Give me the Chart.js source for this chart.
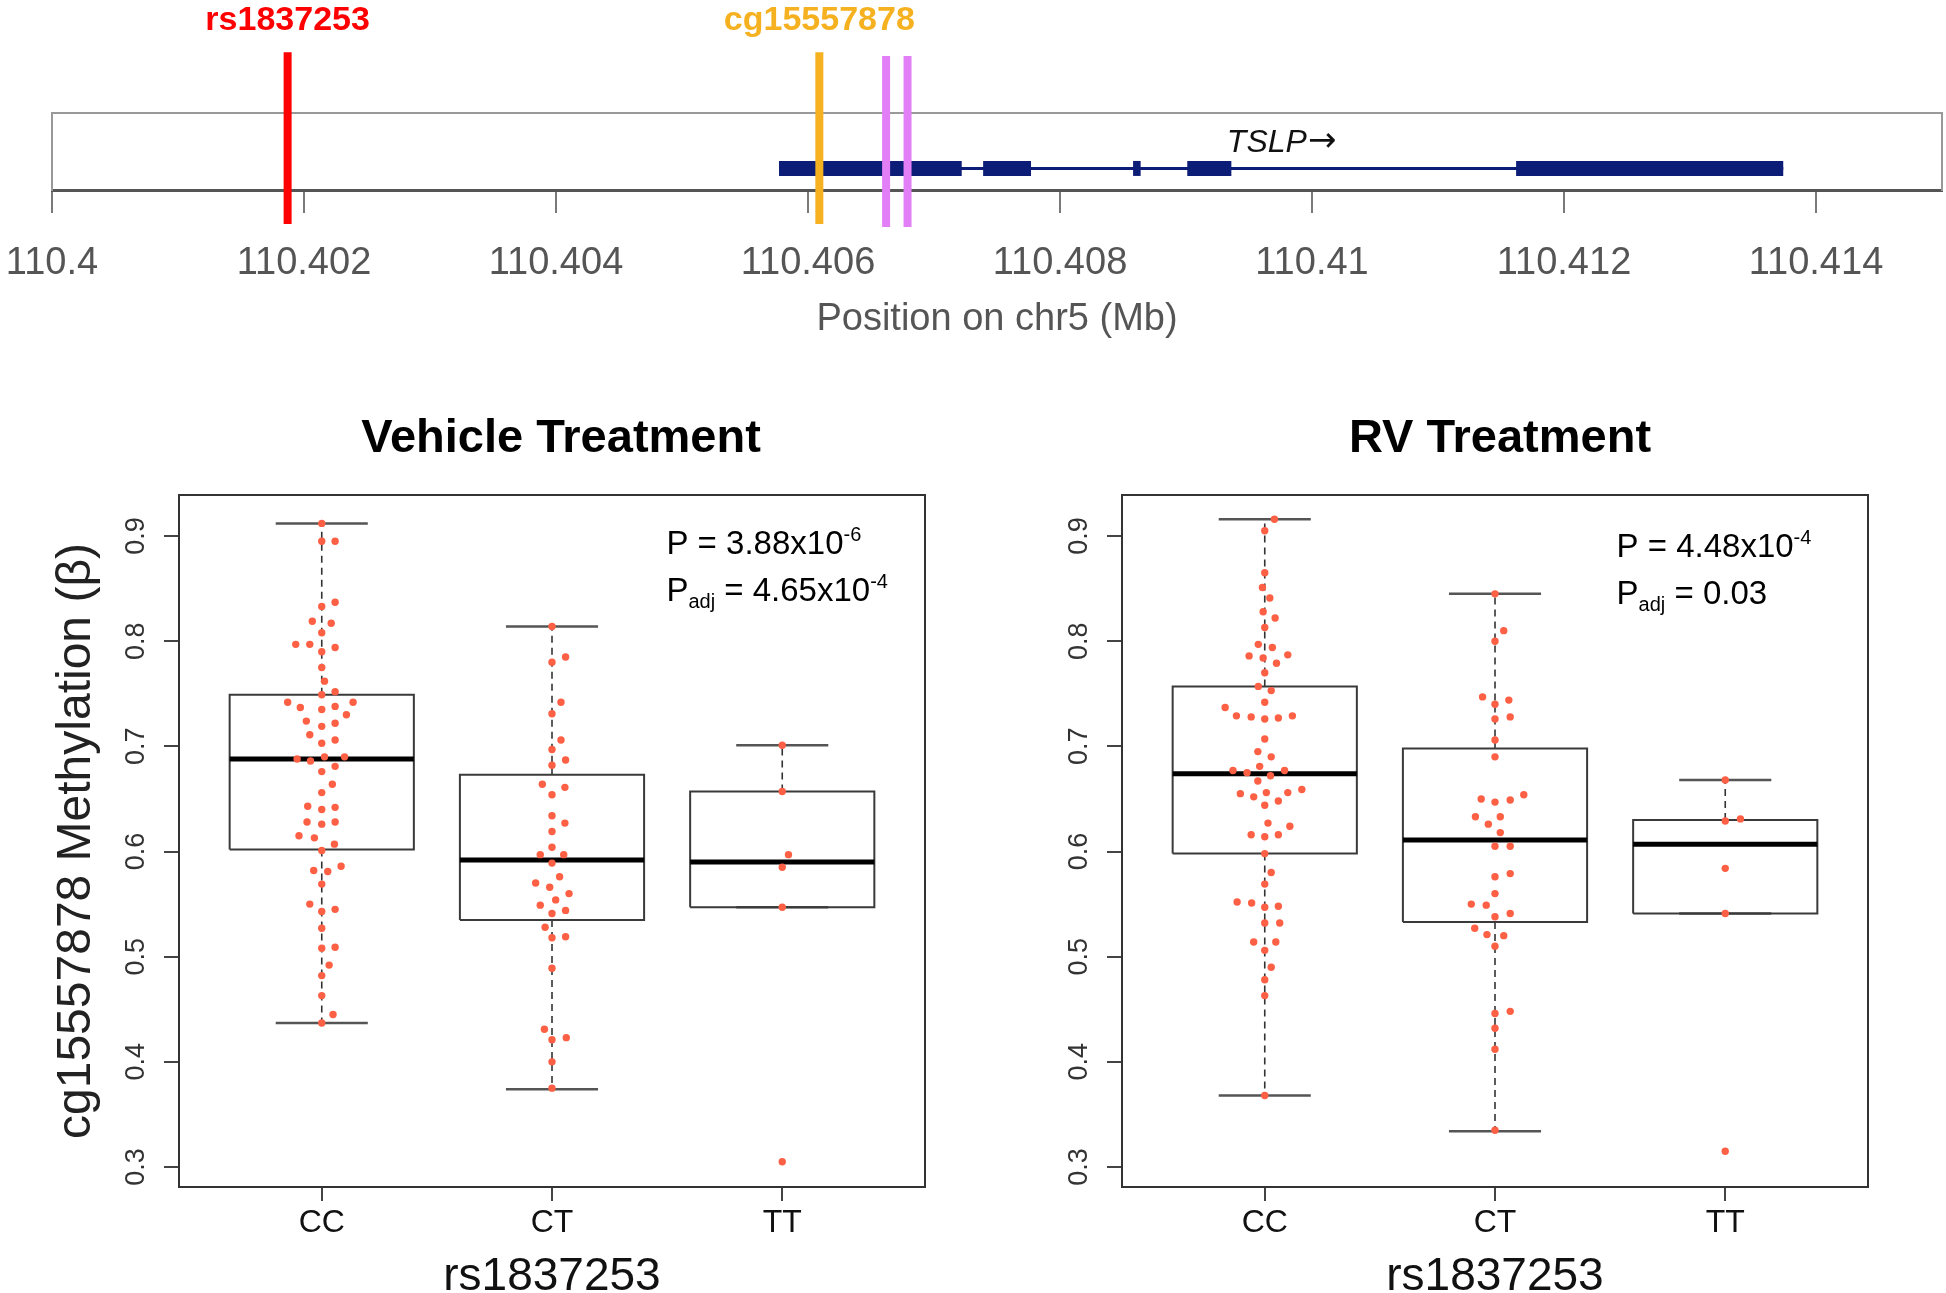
<!DOCTYPE html>
<html><head><meta charset="utf-8">
<script src="https://cdn.jsdelivr.net/npm/chart.js@4.4.1/dist/chart.umd.min.js"></script>
<style>
html,body{margin:0;padding:0;background:#fff;overflow:hidden;width:1946px;height:1293px;}
canvas{position:absolute;}
#gene{left:0;top:0;}
#veh{left:0;top:400px;}
#rv{left:1060px;top:400px;}
</style></head><body>
<canvas id="gene" width="1946" height="345"></canvas>
<canvas id="veh" width="1122" height="900"></canvas>
<canvas id="rv" width="880" height="900"></canvas>
<script>
// ---------------- DATA ----------------
const geneTickValues = [110.4,110.402,110.404,110.406,110.408,110.41,110.412,110.414];
const geneTickLabels = ['110.4','110.402','110.404','110.406','110.408','110.41','110.412','110.414'];
const geneName = 'TSLP';
const transcriptSpan = [110.40577, 110.41374];
const exonStarts = [110.40577, 110.40739, 110.40858, 110.40901, 110.41162];
const exonEnds   = [110.40722, 110.40777, 110.40864, 110.40936, 110.41374];
const markerNames = ['rs1837253', 'cg15557878', '', ''];
const markerPos   = [110.40187, 110.40609, 110.40662, 110.40679];

const genotypes = ['CC', 'CT', 'TT'];
const yTickValues = [0.3, 0.4, 0.5, 0.6, 0.7, 0.8, 0.9];
const yTickLabels = ['0.3', '0.4', '0.5', '0.6', '0.7', '0.8', '0.9'];

// Vehicle treatment
const vehCC = [0.912,0.895,0.895,0.837,0.833,0.819,0.817,0.808,0.797,0.797,0.794,0.790,0.775,0.762,0.752,0.749,0.742,0.742,0.737,0.735,0.738,0.730,0.724,0.722,0.719,0.711,0.703,0.706,0.688,0.686,0.690,0.690,0.676,0.681,0.664,0.656,0.643,0.640,0.642,0.628,0.626,0.628,0.615,0.613,0.607,0.601,0.586,0.582,0.581,0.569,0.550,0.543,0.545,0.527,0.508,0.509,0.492,0.482,0.463,0.445,0.437];
const vehCCjit = [0,0,0.058,0.058,0,-0.041,0.041,0,-0.113,-0.052,0.058,0,0,0.012,0.058,0,-0.148,0.136,-0.093,0,0.058,0.107,-0.067,0.058,0,-0.052,0,0.058,-0.107,-0.049,0.012,0.099,0,0.058,0.046,0,-0.061,0,0.058,-0.064,0,0.058,-0.099,-0.032,0.055,0,0.084,-0.035,0.026,0,-0.052,0,0.058,0,0,0.058,0.032,0,0,0.049,0];
const vehCT = [0.814,0.785,0.780,0.742,0.731,0.706,0.697,0.687,0.682,0.664,0.661,0.654,0.634,0.627,0.619,0.604,0.597,0.597,0.589,0.576,0.570,0.566,0.560,0.554,0.549,0.544,0.541,0.528,0.519,0.518,0.489,0.431,0.423,0.421,0.400,0.375];
const vehCTjit = [0,0.059,0,0.039,0,0.039,0,0.059,0,-0.042,0.056,0,0,0.056,0,0,-0.051,0.051,0,0.033,-0.071,-0.010,0.074,0.016,-0.051,0.059,0,-0.030,0.059,0,0,-0.033,0.062,0,0,0];
const vehTT = [0.701,0.657,0.597,0.585,0.547,0.305];
const vehTTjit = [0,0,0.027,0,0,0];
const vehHi  = [0.912, 0.814, 0.701];
const vehQ3  = [0.749, 0.673, 0.657];
const vehMed = [0.688, 0.592, 0.590];
const vehQ1  = [0.602, 0.535, 0.547];
const vehLo  = [0.437, 0.374, 0.547];

// RV treatment
const rvCC = [0.916,0.905,0.865,0.851,0.841,0.828,0.822,0.813,0.797,0.794,0.786,0.784,0.787,0.779,0.770,0.757,0.753,0.742,0.737,0.729,0.728,0.726,0.727,0.729,0.707,0.695,0.690,0.681,0.677,0.675,0.672,0.677,0.667,0.655,0.652,0.656,0.656,0.659,0.648,0.644,0.627,0.624,0.616,0.614,0.616,0.598,0.580,0.569,0.552,0.551,0.547,0.548,0.532,0.532,0.514,0.514,0.506,0.490,0.478,0.463,0.368];
const rvCCjit = [0.042,0,0,-0.010,0.022,-0.007,0.045,0,-0.028,0.033,-0.068,-0.007,0.100,0.051,0,-0.028,0.028,0,-0.172,-0.123,-0.059,0,0.059,0.120,0,-0.030,0.028,-0.022,-0.138,-0.077,0.025,0.086,-0.030,-0.106,-0.048,0.007,0.100,0.161,0.059,0,0.014,0.109,-0.059,0,0.059,0,0.028,0,-0.120,-0.057,0,0.059,0,0.065,-0.048,0.048,0,0.028,0,0,0];
const rvCT = [0.845,0.810,0.800,0.747,0.744,0.740,0.728,0.726,0.706,0.690,0.650,0.647,0.649,0.654,0.633,0.633,0.626,0.618,0.605,0.605,0.576,0.579,0.560,0.550,0.549,0.538,0.541,0.527,0.521,0.520,0.510,0.448,0.446,0.432,0.412,0.335];
const rvCTjit = [0,0.038,0,-0.054,0.060,0,0.066,0,0,0,-0.060,0,0.066,0.125,-0.085,0.023,-0.029,0.023,0,0.066,0,0.066,0,-0.103,-0.038,0,0.066,-0.088,-0.035,0.038,0,0.066,0,0,0,0];
const rvTT = [0.668,0.631,0.629,0.584,0.541,0.315];
const rvTTjit = [0,0.066,0,0,0,0];
const rvHi  = [0.916, 0.845, 0.668];
const rvQ3  = [0.757, 0.698, 0.630];
const rvMed = [0.674, 0.611, 0.607];
const rvQ1  = [0.598, 0.533, 0.541];
const rvLo  = [0.368, 0.334, 0.541];

const panelTitles = ['Vehicle Treatment', 'RV Treatment'];
const pMantissa = ['3.88', '4.48'];
const pExponent = ['-6', '-4'];
const padjText  = ['4.65x10', '0.03'];
const padjExponent = ['-4', ''];

// ---------------- STYLE ----------------
const FONT = '"Liberation Sans", Arial, sans-serif';
Chart.defaults.font.family = FONT;
const markerColors = ['#ff0000', '#f5b120', '#e27ff6', '#e27ff6'];
const markerSpan = [[-0.44, 1.79], [-0.44, 1.79], [-0.48, 1.74], [-0.48, 1.74]];
const geneLevel = 0.28;
const navy = '#0c1d78';
const pointColor = '#fd6044';

function noHover() { return {legend:{display:false}, tooltip:{enabled:false}}; }
function sideAxis(pos, size, color, w) {
  return {type:'linear', position:pos, min:0, max:1, ticks:{display:false}, grid:{display:false},
    border:{display:true, color:color, width:w},
    afterFit: s => { if (pos === 'top' || pos === 'bottom') s.height = size; else s.width = size; }};
}

// ---------------- GENE TRACK ----------------
const geneDatasets = [];
geneDatasets.push({data:[{x:transcriptSpan[0], y:geneLevel},{x:transcriptSpan[1], y:geneLevel}],
  showLine:true, borderColor:navy, borderWidth:3, pointRadius:0, order:2});
exonStarts.forEach((s, i) => {
  geneDatasets.push({data:[{x:s, y:geneLevel},{x:exonEnds[i], y:geneLevel}], showLine:true,
    borderColor:navy, borderWidth:15, borderCapStyle:'butt', pointRadius:0, order:1});
});
markerPos.forEach((p, i) => {
  geneDatasets.push({data:[{x:p, y:markerSpan[i][0]},{x:p, y:markerSpan[i][1]}], showLine:true,
    borderColor:markerColors[i], borderWidth:8, borderCapStyle:'butt', pointRadius:0, clip:false, order:0});
});

const geneLabels = {
  id:'geneLabels',
  afterDatasetsDraw(chart) {
    const {ctx} = chart; const x = chart.scales.x, y = chart.scales.y;
    ctx.save();
    ctx.textAlign = 'center'; ctx.textBaseline = 'alphabetic';
    ctx.font = 'bold 34px ' + FONT;
    markerNames.forEach((n, i) => {
      if (!n) return;
      ctx.fillStyle = markerColors[i];
      ctx.fillText(n, x.getPixelForValue(markerPos[i]), y.getPixelForValue(2.08));
    });
    const cx = x.getPixelForValue((transcriptSpan[0] + transcriptSpan[1]) / 2);
    const by = y.getPixelForValue(0.49);
    ctx.fillStyle = '#111';
    const f1 = 'italic 32px ' + FONT, f2 = '34px "DejaVu Sans", ' + FONT;
    ctx.font = f1; const w1 = ctx.measureText(geneName).width;
    ctx.font = f2; const w2 = ctx.measureText('\u2192').width;
    const x0 = cx - (w1 + w2) / 2;
    ctx.textAlign = 'left';
    ctx.font = f1; ctx.fillText(geneName, x0, by);
    ctx.font = f2; ctx.fillText('\u2192', x0 + w1 + 1, by - 1);
    ctx.restore();
  }
};

new Chart(document.getElementById('gene'), {
  type:'scatter',
  data:{datasets:geneDatasets},
  options:{
    responsive:false, animation:false, devicePixelRatio:1, events:[],
    layout:{padding:{top:113, left:0, right:0, bottom:0}},
    plugins:noHover(),
    scales:{
      x:{type:'linear', position:'bottom', min:110.4, max:110.415,
        afterBuildTicks: s => { s.ticks = geneTickValues.map(v => ({value:v})); },
        ticks:{autoSkip:false, maxRotation:0, minRotation:0, padding:3, color:'#555', font:{size:38, lineHeight:2.5},
          callback:(v, i) => geneTickLabels[i]},
        grid:{display:true, drawOnChartArea:false, drawTicks:true, tickLength:23, color:'#7a7a7a', lineWidth:2},
        border:{display:true, color:'#555', width:3},
        title:{display:true, text:'Position on chr5 (Mb)', color:'#555', font:{size:38, lineHeight:1.2}, padding:{top:0, bottom:3}},
        afterFit: s => { s.height = 155; }},
      xTop: sideAxis('top', 0, '#999', 2),
      y: sideAxis('left', 52, '#999', 2),
      yR: sideAxis('right', 4, '#999', 2)
    }
  },
  plugins:[geneLabels]
});

// ---------------- BOX PLOTS ----------------
function boxChart(canvasId, k, groups, jits, hi, q3, med, q1, lo, leftW, rightW, showYTitle, pPos) {
  const ds = [];
  const hw = 0.4, cw = 0.2;
  const line = (pts, opt) => Object.assign({data:pts, showLine:true, pointRadius:0, tension:0, order:2}, opt);
  for (let g = 0; g < 3; g++) {
    const x = g + 1;
    ds.push(line([{x:x-hw,y:q1[g]},{x:x+hw,y:q1[g]},{x:x+hw,y:q3[g]},{x:x-hw,y:q3[g]},{x:x-hw,y:q1[g]}],
      {borderColor:'#3a3a3a', borderWidth:2}));
    if (hi[g] > q3[g]) ds.push(line([{x:x,y:q3[g]},{x:x,y:hi[g]}], {borderColor:'#333', borderWidth:1.6, borderDash:[7,5]}));
    if (lo[g] < q1[g]) ds.push(line([{x:x,y:q1[g]},{x:x,y:lo[g]}], {borderColor:'#333', borderWidth:1.6, borderDash:[7,5]}));
    ds.push(line([{x:x-cw,y:hi[g]},{x:x+cw,y:hi[g]}], {borderColor:'#555', borderWidth:2.5}));
    ds.push(line([{x:x-cw,y:lo[g]},{x:x+cw,y:lo[g]}], {borderColor:'#555', borderWidth:2.5}));
    ds.push(line([{x:x-hw,y:med[g]},{x:x+hw,y:med[g]}], {borderColor:'#000', borderWidth:5, borderCapStyle:'butt', order:1}));
    ds.push({data:groups[g].map((v, i) => ({x:x + (jits[g][i] || 0), y:v})), showLine:false,
      pointRadius:3.7, pointBackgroundColor:pointColor, pointBorderWidth:0, pointStyle:'circle', order:0});
  }
  const pPlugin = {
    id:'pvals' + k,
    afterDatasetsDraw(chart) {
      const {ctx} = chart; const xs = chart.scales.x, ys = chart.scales.y;
      const base = 33, small = 20;
      const draw = (parts, px, py) => {
        let cx = px;
        parts.forEach(p => {
          const size = p.s ? small : base;
          ctx.font = size + 'px ' + FONT;
          const dy = p.s === 'sup' ? -13 : (p.s === 'sub' ? 7 : 0);
          ctx.fillText(p.t, cx, py + dy);
          cx += ctx.measureText(p.t).width;
        });
      };
      ctx.save();
      ctx.fillStyle = '#000'; ctx.textAlign = 'left'; ctx.textBaseline = 'alphabetic';
      const px = xs.getPixelForValue(pPos[0]);
      draw([{t:'P = ' + pMantissa[k] + 'x10'}, {t:pExponent[k], s:'sup'}], px, ys.getPixelForValue(pPos[1]));
      const l2 = [{t:'P'}, {t:'adj', s:'sub'}, {t:' = ' + padjText[k]}];
      if (padjExponent[k]) l2.push({t:padjExponent[k], s:'sup'});
      draw(l2, px, ys.getPixelForValue(pPos[2]));
      ctx.restore();
    }
  };
  return new Chart(document.getElementById(canvasId), {
    type:'scatter',
    data:{datasets:ds},
    options:{
      responsive:false, animation:false, devicePixelRatio:1, events:[],
      layout:{padding:0},
      plugins:Object.assign(noHover(), {
        title:{display:true, text:panelTitles[k], color:'#000',
          font:{family:FONT, weight:'bold', size:47, lineHeight:1.2}, padding:{top:11, bottom:27.6}}
      }),
      scales:{
        x:{type:'linear', position:'bottom', min:0.38, max:3.62,
          afterBuildTicks: s => { s.ticks = genotypes.map((_, i) => ({value:i + 1})); },
          ticks:{autoSkip:false, maxRotation:0, minRotation:0, padding:3, color:'#111', font:{size:32},
            callback:(v, i) => genotypes[i]},
          grid:{display:true, drawOnChartArea:false, drawTicks:true, tickLength:14, color:'#444', lineWidth:2},
          border:{display:true, color:'#333', width:2},
          title:{display:true, text:'rs1837253', color:'#111', font:{size:46, lineHeight:1.0}, padding:{top:0, bottom:0}},
          afterFit: s => { s.height = 113; }},
        xTop: sideAxis('top', 0, '#333', 2),
        y:{type:'linear', position:'left', min:0.281, max:0.939,
          afterBuildTicks: s => { s.ticks = yTickValues.map(v => ({value:v})); },
          ticks:{autoSkip:false, minRotation:90, maxRotation:90, crossAlign:'center', padding:9, color:'#333',
            font:{size:27}, callback:(v, i) => yTickLabels[i]},
          grid:{display:true, drawOnChartArea:false, drawTicks:true, tickLength:15, color:'#444', lineWidth:2},
          border:{display:true, color:'#333', width:2},
          title:{display:showYTitle, text:'cg15557878 Methylation (\u03B2)', color:'#222',
            font:{size:48, lineHeight:1.2}, padding:{top:48, bottom:0}},
          afterFit: s => { s.width = leftW; }},
        yR: sideAxis('right', rightW, '#333', 2)
      }
    },
    plugins:[pPlugin]
  });
}

boxChart('veh', 0, [vehCC, vehCT, vehTT], [vehCCjit, vehCTjit, vehTTjit],
  vehHi, vehQ3, vehMed, vehQ1, vehLo, 179, 197, true, [2.497, 0.883, 0.838]);
boxChart('rv', 1, [rvCC, rvCT, rvTT], [rvCCjit, rvCTjit, rvTTjit],
  rvHi, rvQ3, rvMed, rvQ1, rvLo, 62, 72, false, [2.528, 0.880, 0.835]);
</script>
</body></html>
